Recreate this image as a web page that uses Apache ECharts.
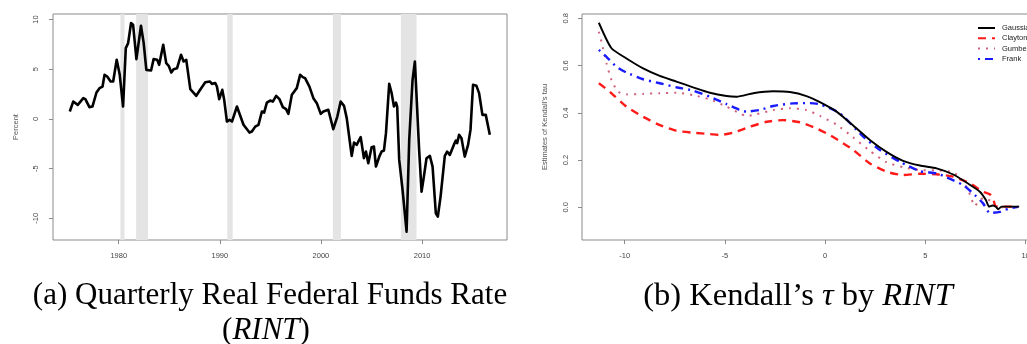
<!DOCTYPE html>
<html>
<head>
<meta charset="utf-8">
<script src="https://cdn.jsdelivr.net/npm/echarts@6/dist/echarts.min.js"></script>
<style>
html,body{margin:0;padding:0;background:#fff;overflow:hidden;}
#c{width:1060px;height:344px;}
</style>
</head>
<body>
<div id="c"></div>
<script>
// ---- Panel (a): quarterly real federal funds rate ----
const rintYear = [1975.16,1975.5,1975.95,1976.5,1976.7,1977.1,1977.4,1977.8,1978.1,1978.4,1978.6,1978.86,1979.2,1979.45,1979.8,1979.9,1980.1,1980.43,1980.7,1980.93,1981.22,1981.42,1981.75,1982.2,1982.47,1982.73,1983.2,1983.45,1983.8,1984.0,1984.4,1984.7,1984.94,1985.2,1985.43,1985.77,1986.16,1986.42,1986.68,1987.08,1987.67,1988.07,1988.56,1989.0,1989.22,1989.55,1989.71,1989.94,1990.24,1990.43,1990.7,1990.96,1991.2,1991.69,1992.34,1992.93,1993.17,1993.5,1993.82,1994.16,1994.38,1994.65,1994.97,1995.24,1995.57,1995.9,1996.23,1996.55,1996.78,1997.12,1997.61,1997.94,1998.2,1998.43,1998.86,1999.25,1999.59,1999.98,2000.24,2000.73,2001.22,2001.62,2001.95,2002.28,2002.55,2003.04,2003.27,2003.53,2003.93,2004.1,2004.25,2004.45,2004.68,2005.01,2005.24,2005.44,2005.77,2006.0,2006.23,2006.43,2006.75,2006.99,2007.22,2007.42,2007.54,2007.74,2008.07,2008.47,2008.73,2009.06,2009.29,2009.46,2009.71,2009.95,2010.18,2010.44,2010.77,2011.04,2011.36,2011.56,2011.83,2012.25,2012.48,2012.74,2013.14,2013.34,2013.47,2013.66,2013.9,2014.22,2014.55,2014.79,2015.04,2015.38,2015.64,2015.97,2016.3,2016.43,2016.7];
const rintValue = [0.74,1.74,1.41,2.08,1.98,1.18,1.24,2.65,3.09,3.25,4.43,4.26,3.76,3.76,5.94,6.1,4.43,1.24,7.12,7.62,9.64,9.47,6.01,9.37,7.62,4.93,4.87,6.01,5.94,5.44,7.45,5.6,5.34,4.67,5.0,5.1,6.44,5.77,5.94,2.99,2.32,2.95,3.68,3.76,3.52,3.6,3.25,1.98,2.92,1.91,-0.27,-0.1,-0.27,1.24,-0.6,-1.38,-1.28,-0.78,-0.6,0.74,0.63,1.64,1.84,1.74,2.32,1.98,1.18,0.98,0.5,2.42,3.09,4.43,4.2,4.1,3.25,2.08,1.58,0.5,0.74,0.91,-1.04,0.23,1.74,1.31,0.07,-3.73,-2.39,-2.62,-1.84,-1.85,-3.96,-3.29,-4.46,-2.85,-2.79,-4.8,-3.8,-3.29,-3.19,-1.44,3.52,2.59,1.24,1.64,1.24,-4.13,-7.15,-11.35,-2.11,3.93,5.77,5.94,-3.12,-7.32,-5.81,-3.96,-3.73,-4.8,-9.5,-9.84,-7.82,-3.73,-3.29,-3.63,-2.62,-2.18,-2.45,-1.61,-1.95,-3.8,-2.62,-1.11,3.42,3.32,2.59,0.4,0.4,0.23,-1.61];
const recessionStart = [1980.17,1981.72,1990.74,2001.18,2007.9];
const recessionEnd   = [1980.57,1982.9,1991.27,2001.97,2009.45];
const yearTicks = [1980,1990,2000,2010];
const percentTicks = [-10,-5,0,5,10];

// ---- Panel (b): Kendall's tau by RINT ----
const gaussX = [-11.29,-10.66,-9.91,-9.08,-8.25,-7.42,-6.59,-5.75,-4.92,-4.42,-3.59,-2.59,-1.76,-0.93,-0.26,0.57,1.4,2.23,3.06,3.89,4.73,5.56,6.39,7.22,7.72,8.02,8.18,8.35,8.52,8.63,8.8,9.22,9.68];
const gaussTau = [0.781,0.673,0.630,0.588,0.556,0.532,0.508,0.485,0.471,0.468,0.483,0.491,0.488,0.471,0.445,0.405,0.346,0.285,0.235,0.197,0.177,0.165,0.139,0.096,0.066,0.031,0.003,0.008,0.003,-0.008,0.003,0.003,0.003];
const claytonX = [-11.29,-10.74,-9.91,-9.08,-8.25,-7.42,-6.59,-5.75,-5.25,-4.59,-3.76,-2.92,-2.1,-1.26,-0.43,0.23,0.73,1.4,2.23,3.06,3.89,4.73,5.56,6.39,7.22,7.88,8.22,8.38,8.5,8.8,9.63];
const claytonTau = [0.525,0.489,0.426,0.383,0.348,0.324,0.316,0.310,0.306,0.316,0.341,0.362,0.369,0.360,0.334,0.306,0.280,0.243,0.186,0.151,0.137,0.142,0.140,0.130,0.102,0.066,0.055,0.038,0.005,0.003,0.003];
const gumbelX = [-11.29,-11.16,-10.91,-10.66,-10.33,-9.91,-9.08,-8.25,-7.42,-6.59,-5.75,-4.92,-4.26,-3.92,-3.42,-2.59,-1.76,-0.93,-0.26,0.57,1.4,2.23,3.06,3.89,4.73,5.56,6.39,6.81,7.14,7.3,7.47,7.63,7.9,8.3,8.6,9.6];
const gumbelTau = [0.743,0.701,0.610,0.539,0.489,0.478,0.480,0.483,0.485,0.475,0.457,0.426,0.398,0.386,0.394,0.412,0.419,0.412,0.387,0.350,0.296,0.239,0.191,0.170,0.158,0.157,0.149,0.116,0.073,0.035,0.005,0.024,0.040,0.025,0.000,0.003];
const frankX = [-11.29,-10.91,-10.41,-9.91,-9.08,-8.25,-7.42,-6.59,-5.75,-4.92,-4.26,-3.92,-3.26,-2.59,-1.6,-0.76,-0.26,0.73,1.9,2.73,3.73,4.73,5.56,6.06,6.89,7.47,7.88,8.22,8.72,8.97,9.22,9.63];
const frankTau = [0.666,0.637,0.595,0.570,0.542,0.525,0.508,0.494,0.468,0.437,0.412,0.405,0.412,0.429,0.440,0.441,0.436,0.398,0.299,0.243,0.193,0.153,0.144,0.127,0.094,0.052,0.017,-0.024,-0.019,-0.011,-0.004,0.002];
const copulaNames = ['Gaussian','Clayton','Gumbel','Frank'];
const rintTicks = [-10,-5,0,5,10];
const tauTicks = [0.0,0.2,0.4,0.6,0.8];

const zip = (xs, ys) => xs.map((x, i) => [x, ys[i]]);

const tickFont = {fontFamily:'Liberation Sans, Arial, sans-serif', fontSize:7.5, color:'#444'};
const boxColor = '#8a8a8a';

function xAxisCfg(grid, min, max, ticks){
  return {type:'value', gridIndex:grid, min:min, max:max,
    axisLine:{show:false, onZero:false}, splitLine:{show:false},
    axisTick:{show:true, length:4, customValues:ticks, lineStyle:{color:boxColor}},
    axisLabel:Object.assign({customValues:ticks, margin:12, formatter:v => String(v)}, tickFont)};
}
function yAxisCfg(grid, min, max, ticks, name, fmt, margin){
  return {type:'value', gridIndex:grid, min:min, max:max,
    name:name, nameLocation:'middle', nameGap:33, nameRotate:90,
    nameTextStyle:Object.assign({}, tickFont, {color:'#555'}),
    axisLine:{show:false, onZero:false}, splitLine:{show:false},
    axisTick:{show:true, length:4, customValues:ticks, lineStyle:{color:boxColor}},
    axisLabel:Object.assign({customValues:ticks, rotate:90, margin:margin, formatter:fmt}, tickFont)};
}

const serifFont = 'Liberation Serif, Times New Roman, serif';
function richAt(size){
  return {
    n:{fontFamily:serifFont, fontSize:size, color:'#111'},
    i:{fontFamily:serifFont, fontSize:size, fontStyle:'italic', color:'#111'}
  };
}

const chart = echarts.init(document.getElementById('c'), null, {renderer:'canvas'});
chart.setOption({
  animation:false,
  backgroundColor:'#ffffff',
  grid:[
    {left:53, top:14, width:454, height:226, show:true, borderColor:boxColor, borderWidth:1, backgroundColor:'transparent'},
    {left:582, top:14, width:454, height:226, show:true, borderColor:boxColor, borderWidth:1, backgroundColor:'transparent'}
  ],
  xAxis:[
    xAxisCfg(0, 1973.5, 2018.4, yearTicks),
    xAxisCfg(1, -12.13, 10.52, rintTicks)
  ],
  yAxis:[
    yAxisCfg(0, -12.19, 10.55, percentTicks, 'Percent', v => String(v), 13),
    yAxisCfg(1, -0.138, 0.818, tauTicks, 'Estimates of Kendall\u2019s tau', v => v.toFixed(1), 12)
  ],
  legend:{
    orient:'vertical', left:972, top:19, itemWidth:17, itemHeight:8, itemGap:2.3,
    data:copulaNames,
    itemStyle:{opacity:0},
    textStyle:{fontFamily:'Liberation Sans, Arial, sans-serif', fontSize:7.5, color:'#222', padding:[0,0,0,2]}
  },
  series:[
    {type:'line', xAxisIndex:0, yAxisIndex:0, data:[], z:1, silent:true,
     markArea:{silent:true, itemStyle:{color:'#e4e4e4'},
       data: recessionStart.map((s,i)=>[{xAxis:s, yAxis:-12.19},{xAxis:recessionEnd[i], yAxis:10.55}])}},
    {type:'line', xAxisIndex:0, yAxisIndex:0, z:3, data:zip(rintYear, rintValue), symbol:'none',
     lineStyle:{color:'#000', width:2.6, join:'round'}},
    {name:'Gaussian', type:'line', xAxisIndex:1, yAxisIndex:1, z:6, data:zip(gaussX, gaussTau), symbol:'none', smooth:0.2,
     itemStyle:{color:'#000'}, lineStyle:{color:'#000', width:1.9}},
    {name:'Clayton', type:'line', xAxisIndex:1, yAxisIndex:1, z:5, data:zip(claytonX, claytonTau), symbol:'none', smooth:0.2,
     itemStyle:{color:'#ff1a1a'}, lineStyle:{color:'#ff1a1a', width:2.4, type:[8,6], cap:'butt'}},
    {name:'Gumbel', type:'line', xAxisIndex:1, yAxisIndex:1, z:4, data:zip(gumbelX, gumbelTau), symbol:'none', smooth:0.2,
     itemStyle:{color:'#d0607a'}, lineStyle:{color:'#d0607a', width:2, type:[2,6], cap:'butt'}},
    {name:'Frank', type:'line', xAxisIndex:1, yAxisIndex:1, z:5, data:zip(frankX, frankTau), symbol:'none', smooth:0.2,
     itemStyle:{color:'#1a1aff'}, lineStyle:{color:'#1a1aff', width:2.4, type:[2,5,8,5], cap:'butt'}}
  ],
  graphic:[
    {type:'text', x:270, y:296, style:{text:'{n|(a) Quarterly Real Federal Funds Rate}', rich:richAt(31), align:'center', verticalAlign:'middle'}},
    {type:'text', x:266, y:331, style:{text:'{n|(}{i|RINT}{n|)}', rich:richAt(31), align:'center', verticalAlign:'middle'}},
    {type:'text', x:798, y:296, style:{text:'{n|(b) Kendall\u2019s }{i|\u03c4}{n| by }{i|RINT}', rich:richAt(32.5), align:'center', verticalAlign:'middle'}}
  ]
});
</script>
</body>
</html>
